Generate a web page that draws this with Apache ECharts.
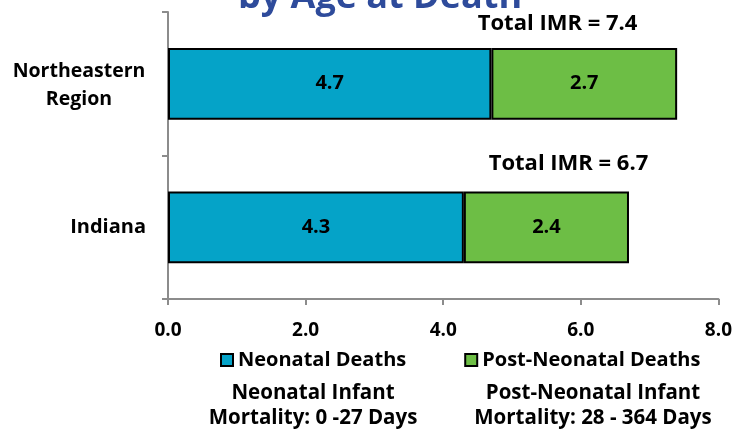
<!DOCTYPE html>
<html>
<head>
<meta charset="utf-8">
<script src="https://cdn.jsdelivr.net/npm/echarts@6/dist/echarts.min.js"></script>
<style>
  html, body { margin: 0; padding: 0; background: #fff; }
  #main { width: 735px; height: 442px; }
</style>
</head>
<body>
<div id="main"></div>
<script>
// data
var regions = ['Northeastern\nRegion', 'Indiana'];
var neonatal = [4.7, 4.3];
var postNeonatal = [2.7, 2.4];
var totals = [7.4, 6.7];
var xTicks = [0, 2, 4, 6, 8];
var notes = ['Neonatal Infant\nMortality: 0 -27 Days', 'Post-Neonatal Infant\nMortality: 28 - 364 Days'];

var font = '"Open Sans", "Noto Sans", sans-serif';
// offsets for the "Total IMR" annotation (from centre of the total bar)
var totalOffsets = [[135, -8], [170, -12]];
var noteX = [313, 593];

var myChart = echarts.init(document.getElementById('main'));

myChart.setOption({
  animation: false,
  title: {
    text: 'by Age at Death',
    left: 375,
    textAlign: 'center',
    top: -25,
    textStyle: { color: '#2E4B9B', fontSize: 36, fontWeight: 'bold', fontFamily: font }
  },
  grid: { left: 168, right: 15, top: 12, bottom: 143 },
  legend: {
    left: 215,
    top: 345,
    itemWidth: 12,
    itemHeight: 12,
    itemGap: 58,
    icon: 'rect',
    textStyle: { color: '#000', fontSize: 20, fontWeight: 'bold', fontFamily: font },
    data: ['Neonatal Deaths', 'Post-Neonatal Deaths']
  },
  graphic: notes.map(function (t, i) {
    return {
      type: 'text',
      x: noteX[i],
      y: 381,
      style: {
        text: t,
        textAlign: 'center',
        textVerticalAlign: 'top',
        fill: '#000',
        font: 'bold 20.5px ' + font,
        lineHeight: 25
      }
    };
  }),
  xAxis: {
    type: 'value',
    min: xTicks[0],
    max: xTicks[xTicks.length - 1],
    interval: 2,
    splitLine: { show: false },
    axisLine: { show: true, lineStyle: { color: '#8c8c8c', width: 2 } },
    axisTick: { show: true, length: 6, lineStyle: { color: '#8c8c8c', width: 2 } },
    axisLabel: {
      margin: 22,
      color: '#000', fontSize: 19, fontWeight: 'bold', fontFamily: font,
      formatter: function (v) { return v.toFixed(1); }
    }
  },
  yAxis: {
    type: 'category',
    inverse: true,
    data: regions,
    axisLine: { show: true, lineStyle: { color: '#8c8c8c', width: 2 } },
    axisTick: { show: true, length: 6, lineStyle: { color: '#8c8c8c', width: 2 } },
    axisLabel: {
      margin: 22,
      color: '#000', fontSize: 20, fontWeight: 'bold', fontFamily: font, lineHeight: 28,
      formatter: function (v) {
        if (v.indexOf('\n') < 0) return v;
        return v.split('\n').map(function (s) { return '{c|' + s + '}'; }).join('\n');
      },
      rich: {
        c: { width: 134, align: 'center', fontSize: 19.5, fontWeight: 'bold', fontFamily: font, color: '#000', lineHeight: 28, padding: [3, 0, 0, 0] }
      }
    }
  },
  series: [
    {
      name: 'Neonatal Deaths',
      type: 'bar',
      stack: 'imr',
      barWidth: '50%',
      data: neonatal,
      itemStyle: { color: '#05A3C8', borderColor: '#000', borderWidth: 2 },
      label: {
        show: true, position: 'inside',
        color: '#000', fontSize: 20, fontWeight: 'bold', fontFamily: font,
        formatter: function (p) { return p.value.toFixed(1); }
      }
    },
    {
      name: 'Post-Neonatal Deaths',
      type: 'bar',
      stack: 'imr',
      barWidth: '50%',
      data: postNeonatal,
      itemStyle: { color: '#6DBE45', borderColor: '#000', borderWidth: 2 },
      label: {
        show: true, position: 'inside',
        color: '#000', fontSize: 20, fontWeight: 'bold', fontFamily: font,
        formatter: function (p) { return p.value.toFixed(1); }
      }
    },
    {
      // invisible bar of the total, only carries the "Total IMR" text
      name: 'total',
      type: 'bar',
      barWidth: '50%',
      barGap: '-100%',
      silent: true,
      z: 0,
      itemStyle: { color: 'transparent' },
      data: totals.map(function (v, i) {
        return {
          value: v,
          label: {
            show: true,
            position: 'top',
            offset: totalOffsets[i],
            lineHeight: 22,
            color: '#000', fontSize: 22, fontWeight: 'bold', fontFamily: font,
            formatter: 'Total IMR = ' + v.toFixed(1)
          }
        };
      })
    }
  ]
});
</script>
</body>
</html>
